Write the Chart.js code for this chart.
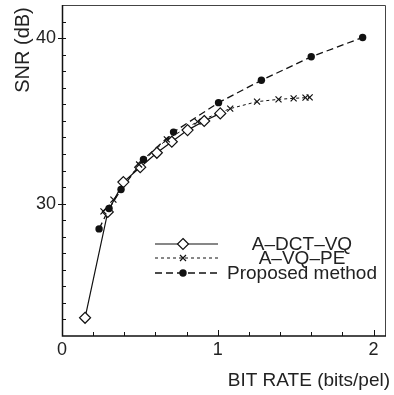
<!DOCTYPE html>
<html>
<head>
<meta charset="utf-8">
<script src="https://cdn.jsdelivr.net/npm/chart.js@4/dist/chart.umd.min.js"></script>
<style>
  html, body { margin: 0; padding: 0; background: #fff; }
  #wrap { width: 394px; height: 395px; position: relative; }
</style>
</head>
<body>
<div id="wrap"><canvas id="c" width="394" height="395"></canvas></div>
<script>
// ---- data ----
const seriesNames = ["A\u2013DCT\u2013VQ", "A\u2013VQ\u2013PE", "Proposed method"];

const dctRate = [0.148, 0.294, 0.394, 0.502, 0.609, 0.705, 0.806, 0.913, 1.016];
const dctSnr  = [23.1, 29.5, 31.3, 32.2, 33.07, 33.74, 34.44, 34.99, 35.45];

const peRate = [0.266, 0.33, 0.495, 0.673, 0.87, 1.08, 1.252, 1.39, 1.487, 1.563, 1.59];
const peSnr  = [29.53, 30.24, 32.36, 33.88, 34.95, 35.74, 36.16, 36.3, 36.36, 36.4, 36.42];

const propRate = [0.238, 0.302, 0.379, 0.523, 0.716, 1.005, 1.28, 1.60, 1.93];
const propSnr  = [28.47, 29.7, 30.85, 32.67, 34.32, 36.1, 37.45, 38.87, 40.04];

const xTickLabels = [0, 1, 2];
const yTickLabels = [30, 40];
const xMinorTicks = [0, 0.2, 0.4, 0.6, 0.8, 1, 1.2, 1.4, 1.6, 1.8, 2];
const yMinorTicks = [23,24,25,26,27,28,29,30,31,32,33,34,35,36,37,38,39,40,41];

const xTitle = "BIT RATE (bits/pel)";
const yTitle = "SNR (dB)";

// ---- build ----
const toPts = (xs, ys) => xs.map((x, i) => ({ x: x, y: ys[i] }));
const INK = "#111";
const FONT = "'Liberation Sans', Arial, Helvetica, sans-serif";

const styles = [
  { dash: [], width: 1.2, marker: "diamond" },
  { dash: [3, 3], width: 1.0, marker: "x" },
  { dash: [7, 4], width: 1.3, marker: "dot" }
];

function drawMarker(ctx, kind, x, y) {
  ctx.save();
  ctx.setLineDash([]);
  ctx.strokeStyle = INK;
  ctx.fillStyle = INK;
  if (kind === "diamond") {
    const r = 5.5;
    ctx.beginPath();
    ctx.moveTo(x, y - r); ctx.lineTo(x + r, y); ctx.lineTo(x, y + r); ctx.lineTo(x - r, y); ctx.closePath();
    ctx.fillStyle = "#fff"; ctx.fill();
    ctx.lineWidth = 1.2; ctx.stroke();
  } else if (kind === "x") {
    const r = 3;
    ctx.lineWidth = 1.2;
    ctx.beginPath();
    ctx.moveTo(x - r, y - r); ctx.lineTo(x + r, y + r);
    ctx.moveTo(x + r, y - r); ctx.lineTo(x - r, y + r);
    ctx.stroke();
  } else {
    ctx.beginPath(); ctx.arc(x, y, 3.7, 0, Math.PI * 2); ctx.fill();
  }
  ctx.restore();
}

const decor = {
  id: "decor",
  afterDatasetsDraw(chart) {
    const ctx = chart.ctx;
    const a = chart.chartArea;
    const xs = chart.scales.x, ys = chart.scales.y;
    ctx.save();
    // frame
    ctx.strokeStyle = "#444"; ctx.lineWidth = 1;
    ctx.beginPath();
    ctx.moveTo(a.left, a.top + 0.5); ctx.lineTo(a.right - 0.5, a.top + 0.5); ctx.lineTo(a.right - 0.5, a.bottom);
    ctx.stroke();
    ctx.strokeStyle = INK; ctx.lineWidth = 1.5;
    ctx.beginPath();
    ctx.moveTo(a.left + 0.5, a.top); ctx.lineTo(a.left + 0.5, a.bottom); ctx.lineTo(a.right, a.bottom);
    ctx.stroke();
    // ticks
    ctx.lineWidth = 1;
    ctx.beginPath();
    xMinorTicks.forEach(v => {
      const px = Math.round(xs.getPixelForValue(v)) + 0.5;
      const major = xTickLabels.includes(v);
      ctx.moveTo(px, a.bottom); ctx.lineTo(px, a.bottom - (major ? 6 : 4));
    });
    yMinorTicks.forEach(v => {
      const py = Math.round(ys.getPixelForValue(v)) + 0.5;
      const major = yTickLabels.includes(v);
      ctx.moveTo(a.left - (major ? 4 : 0), py); ctx.lineTo(a.left + 4, py);
    });
    ctx.stroke();
    // axis titles
    ctx.fillStyle = "#222";
    ctx.font = "19px " + FONT;
    ctx.textAlign = "right"; ctx.textBaseline = "middle";
    ctx.fillText(xTitle, 390, 381);
    ctx.save();
    ctx.translate(23, 50);
    ctx.rotate(-Math.PI / 2);
    ctx.textAlign = "center";
    ctx.font = "20px " + FONT;
    ctx.fillText(yTitle, 0, 0);
    ctx.restore();
    // legend
    const rows = [244, 258, 273];
    rows.forEach((ry, i) => {
      const st = styles[i];
      ctx.save();
      ctx.strokeStyle = INK; ctx.lineWidth = st.width; ctx.setLineDash(st.dash);
      ctx.beginPath(); ctx.moveTo(155, ry); ctx.lineTo(218, ry); ctx.stroke();
      ctx.restore();
      drawMarker(ctx, st.marker, 183, ry);
      ctx.fillStyle = "#222";
      ctx.font = "19px " + FONT;
      ctx.textAlign = "center"; ctx.textBaseline = "middle";
      ctx.fillText(seriesNames[i], 302, ry + 1);
    });
    ctx.restore();
  }
};

const markerPlugin = {
  id: "markers",
  afterDatasetsDraw(chart) {
    const ctx = chart.ctx;
    chart.data.datasets.forEach((ds, i) => {
      const meta = chart.getDatasetMeta(i);
      meta.data.forEach(el => drawMarker(ctx, styles[i].marker, el.x, el.y));
    });
  }
};

const datasets = [
  { label: seriesNames[0], data: toPts(dctRate, dctSnr) },
  { label: seriesNames[1], data: toPts(peRate, peSnr) },
  { label: seriesNames[2], data: toPts(propRate, propSnr) }
].map((d, i) => Object.assign(d, {
  showLine: true,
  borderColor: INK,
  borderWidth: styles[i].width,
  borderDash: styles[i].dash,
  pointRadius: 0,
  pointHoverRadius: 0,
  tension: 0,
  fill: false
}));

const isMajor = (v, list) => list.some(t => Math.abs(t - v) < 1e-6);

new Chart(document.getElementById("c"), {
  type: "scatter",
  data: { datasets: datasets },
  options: {
    responsive: false,
    animation: false,
    events: [],
    layout: { padding: { left: 0, top: 5, right: 8, bottom: 0 } },
    plugins: { legend: { display: false }, tooltip: { enabled: false } },
    scales: {
      x: {
        type: "linear", min: 0, max: 2.08,
        grid: { display: false, drawTicks: false },
        border: { display: false },
        afterBuildTicks(s) { s.ticks = xTickLabels.map(v => ({ value: v })); },
        ticks: {
          autoSkip: false, maxRotation: 0, padding: 3,
          color: "#222", font: { size: 18, family: FONT },
          callback: v => String(Math.round(v))
        },
        afterFit(s) { s.height = 59; s.paddingLeft = 0; s.paddingRight = 0; }
      },
      y: {
        type: "linear", min: 22, max: 42,
        grid: { display: false, drawTicks: false },
        border: { display: false },
        afterBuildTicks(s) { s.ticks = yTickLabels.map(v => ({ value: v })); },
        ticks: {
          autoSkip: false, padding: 6,
          color: "#222", font: { size: 18, family: FONT },
          callback: v => String(Math.round(v))
        },
        afterFit(s) { s.width = 62; s.paddingTop = 0; s.paddingBottom = 0; }
      }
    }
  },
  plugins: [decor, markerPlugin]
});
</script>
</body>
</html>
